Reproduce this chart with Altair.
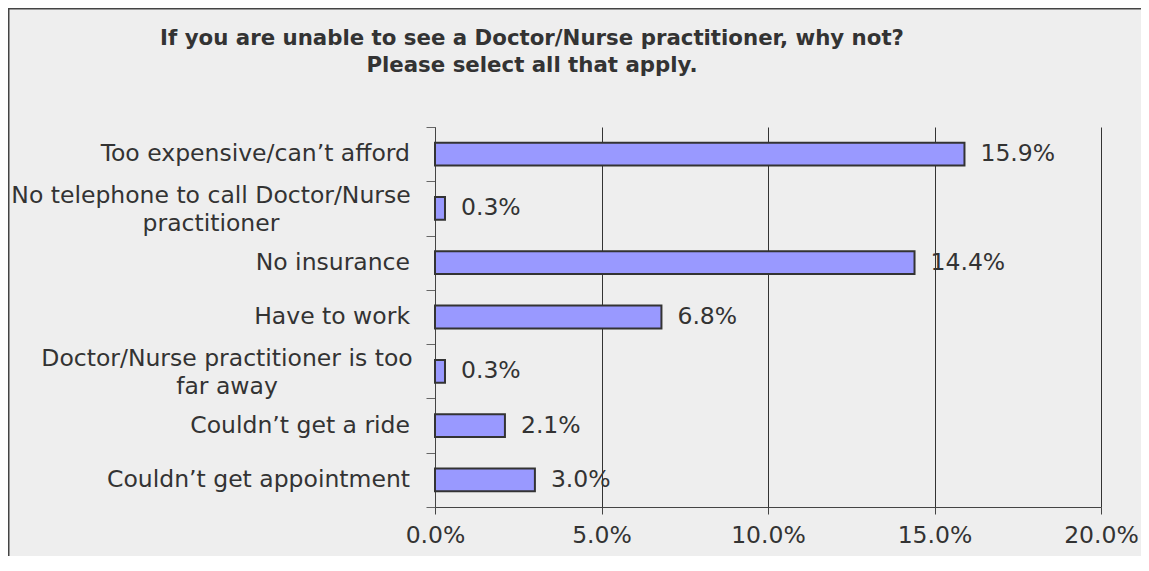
import altair as alt
import pandas as pd

categories = [
    "Too expensive/can’t afford",
    "No telephone to call Doctor/Nurse practitioner",
    "No insurance",
    "Have to work",
    "Doctor/Nurse practitioner is too far away",
    "Couldn’t get a ride",
    "Couldn’t get appointment",
]
label_lines = [
    ["Too expensive/can’t afford"],
    ["No telephone to call Doctor/Nurse", "practitioner"],
    ["No insurance"],
    ["Have to work"],
    ["Doctor/Nurse practitioner is too", "far away"],
    ["Couldn’t get a ride"],
    ["Couldn’t get appointment"],
]
values = [15.9, 0.3, 14.4, 6.8, 0.3, 2.1, 3.0]
x_ticks = [0, 5, 10, 15, 20]
title_lines = [
    "If you are unable to see a Doctor/Nurse practitioner, why not?",
    "Please select all that apply.",
]

FONT = "DejaVu Sans"
TXT = "#333333"
FS = 23.5

df = pd.DataFrame({
    "category": categories,
    "value": values,
    "label": ["|".join(l) for l in label_lines],
    "nlines": [len(l) for l in label_lines],
})

yscale = alt.Scale(domain=categories, paddingInner=0, paddingOuter=0)

y_axis = alt.Axis(
    title=None, labels=False, ticks=True, tickBand="extent", tickSize=9,
    tickColor="#666666", domainColor="#444444", grid=False,
)
x_axis = alt.Axis(
    title=None, values=x_ticks, labelExpr="format(datum.value, '.1f') + '%'",
    grid=True, gridColor="#333333", gridWidth=1, domainColor="#444444",
    tickColor="#444444", tickSize=7, labelFont=FONT, labelFontSize=FS,
    labelColor=TXT, labelPadding=9, labelFlush=False,
)

base = alt.Chart(df)
Y = alt.Y("category:N", scale=yscale, sort=categories)

border = alt.Chart(alt.Data(values=[{}])).mark_rect(
    fill=None, stroke="#444444", strokeWidth=1.5
).encode(
    x=alt.value(-426.25), x2=alt.value(800), y=alt.value(-118.25), y2=alt.value(520)
)

title = alt.Chart(alt.Data(values=[{"t": "|".join(title_lines)}])).mark_text(
    align="center", baseline="middle", font=FONT, fontSize=21.3, fontWeight="bold",
    color=TXT, lineBreak="|", lineHeight=27,
).encode(
    x=alt.value(97), y=alt.value(-88), text="t:N"
)

bars = base.mark_bar(
    fill="#9999FF", stroke="#333333", strokeWidth=2,
    height=alt.RelativeBandSize(0.42),
).encode(
    x=alt.X("value:Q", scale=alt.Scale(domain=[0, 20], nice=False), axis=x_axis),
    y=alt.Y("category:N", scale=yscale, axis=y_axis, sort=categories),
)

vals = base.mark_text(
    align="left", baseline="middle", dx=16, font=FONT, fontSize=FS, color=TXT
).transform_calculate(
    txt="format(datum.value, '.1f') + '%'"
).encode(
    x=alt.X("value:Q"),
    y=Y,
    text="txt:N",
)

single = base.transform_filter("datum.nlines == 1").mark_text(
    align="right", baseline="middle", font=FONT, fontSize=FS, color=TXT
).encode(
    x=alt.value(-25),
    y=Y,
    text="label:N",
)

multi1 = base.transform_filter(alt.datum.category == categories[1]).mark_text(
    align="center", baseline="middle", font=FONT, fontSize=FS, color=TXT,
    lineBreak="|", lineHeight=28, dy=-12,
).encode(
    x=alt.value(-224),
    y=Y,
    text="label:N",
)

multi2 = base.transform_filter(alt.datum.category == categories[4]).mark_text(
    align="center", baseline="middle", font=FONT, fontSize=FS, color=TXT,
    lineBreak="|", lineHeight=28, dy=-12,
).encode(
    x=alt.value(-208),
    y=Y,
    text="label:N",
)

chart = alt.layer(border, title, bars, vals, single, multi1, multi2).properties(
    width=666,
    height=380,
    autosize=alt.AutoSizeParams(type="none"),
    padding={"left": 427, "top": 119, "right": 40, "bottom": 49},
).configure(background="#EEEEEE").configure_view(strokeWidth=0)

chart.save("out.html", embed_options={"renderer": "svg", "actions": False})
